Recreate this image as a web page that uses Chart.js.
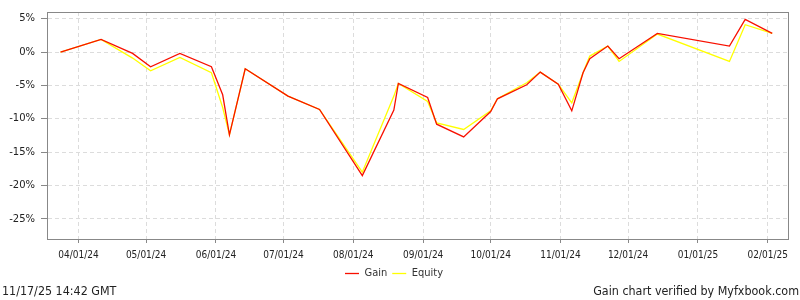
<!DOCTYPE html>
<html>
<head>
<meta charset="utf-8">
<script src="https://cdn.jsdelivr.net/npm/chart.js@4.4.1/dist/chart.umd.min.js"></script>
<style>
  html, body { margin: 0; padding: 0; background: #fff; }
  #wrap { position: relative; width: 800px; height: 300px; }
  .foot { position: absolute; top: 283px; font: 12.4px "DejaVu Sans Condensed", "DejaVu Sans", sans-serif; color: #222; white-space: nowrap; }
</style>
</head>
<body>
<div id="wrap">
  <canvas id="chart" width="800" height="300"></canvas>
  <div class="foot" style="left:2px;">11/17/25 14:42 GMT</div>
  <div class="foot" style="right:1px;">Gain chart verified by Myfxbook.com</div>
</div>
<script>
// 資料點 (日期 / 收益 % / 淨值 %)
const dates = [
    '2024-03-24', '2024-04-11', '2024-04-25', '2024-05-03', '2024-05-16', '2024-05-30',
    '2024-06-04', '2024-06-07', '2024-06-14', '2024-07-03', '2024-07-17', '2024-08-05',
    '2024-08-19', '2024-08-21', '2024-09-03', '2024-09-07', '2024-09-19', '2024-10-01',
    '2024-10-04', '2024-10-17', '2024-10-23', '2024-10-31', '2024-11-06', '2024-11-11',
    '2024-11-14', '2024-11-22', '2024-11-27', '2024-12-14', '2025-01-15', '2025-01-22',
    '2025-02-03'
];
const gain = [
    0, 1.9, -0.2, -2.2, -0.2, -2.2,
    -6.4, -12.4, -2.5, -6.6, -8.6, -18.5,
    -8.7, -4.7, -6.8, -10.8, -12.7, -8.9,
    -7.0, -4.9, -3.0, -4.8, -8.8, -3.1,
    -1.0, 0.9, -1.0, 2.8, 0.9, 4.9,
    2.8
];
const equity = [
    0, 1.9, -0.9, -2.8, -0.8, -3.1,
    -8.3, -12.4, -2.5, -6.6, -8.6, -18.0,
    -6.6, -4.7, -7.4, -10.6, -11.6, -8.8,
    -7.0, -4.6, -3.0, -4.8, -7.6, -3.1,
    -0.6, 0.9, -1.4, 2.7, -1.4, 4.1,
    2.8
];

// 座標軸刻度
const xTicks = ['2024-04-01', '2024-05-01', '2024-06-01', '2024-07-01', '2024-08-01', '2024-09-01',
                '2024-10-01', '2024-11-01', '2024-12-01', '2025-01-01', '2025-02-01'];
const xMin = '2024-03-18', xMax = '2025-02-10';
const yTicks = [-25, -20, -15, -10, -5, 0, 5];
const yMin = -28, yMax = 6;

const DAY = 86400000;
function dayNum(s) {
    const [y, m, d] = s.split('-').map(Number);
    return Date.UTC(y, m - 1, d) / DAY;
}
function fmtDay(n) {
    const d = new Date(n * DAY);
    const p = v => String(v).padStart(2, '0');
    return `${p(d.getUTCMonth() + 1)}/${p(d.getUTCDate())}/${p(d.getUTCFullYear() % 100)}`;
}

// 圖表外框 (上、右兩邊)
const frame = {
    id: 'frame',
    afterDraw(chart) {
        const {ctx, chartArea: a} = chart;
        ctx.save();
        ctx.strokeStyle = '#888';
        ctx.lineWidth = 1;
        ctx.strokeRect(Math.round(a.left) + 0.5, Math.round(a.top) + 0.5,
                       Math.round(a.right - a.left), Math.round(a.bottom - a.top));
        ctx.restore();
    }
};

const gridOpts = { color: '#dcdcdc', tickColor: '#888', tickBorderDash: [] };
const condensed = '"DejaVu Sans Condensed", "DejaVu Sans"';

new Chart(document.getElementById('chart'), {
    type: 'line',
    data: {
        datasets: [
            { label: 'Gain', data: dates.map((d, i) => ({ x: dayNum(d), y: gain[i] })),
              borderColor: '#f81000', backgroundColor: '#f81000', borderWidth: 1.3 },
            { label: 'Equity', data: dates.map((d, i) => ({ x: dayNum(d), y: equity[i] })),
              borderColor: '#ffff00', backgroundColor: '#ffff00', borderWidth: 1.3 }
        ]
    },
    options: {
        responsive: false,
        animation: false,
        events: [],
        elements: { point: { radius: 0 }, line: { tension: 0 } },
        layout: { padding: { top: 10, right: 12, bottom: 11, left: 0 } },
        plugins: {
            tooltip: { enabled: false },
            legend: {
                position: 'bottom',
                labels: {
                    usePointStyle: true, pointStyle: 'line', pointStyleWidth: 14, boxHeight: 11, padding: 5,
                    color: '#333', font: { family: condensed, size: 11 }
                }
            }
        },
        scales: {
            x: {
                type: 'linear',
                min: dayNum(xMin), max: dayNum(xMax),
                afterBuildTicks: s => { s.ticks = xTicks.map(d => ({ value: dayNum(d) })); },
                afterFit: s => { s.height = 24; },
                grid: { ...gridOpts, tickLength: 4 },
                border: { color: '#888', dash: [4, 3] },
                ticks: {
                    autoSkip: false, maxRotation: 0, padding: 6, color: '#222',
                    font: { family: condensed, size: 10 },
                    callback: v => fmtDay(v)
                }
            },
            y: {
                min: yMin, max: yMax,
                afterBuildTicks: s => { s.ticks = yTicks.map(v => ({ value: v })); },
                afterFit: s => { s.width = 47; },
                grid: { ...gridOpts, tickLength: 6 },
                border: { color: '#888', dash: [4, 3] },
                ticks: {
                    padding: 6, color: '#222',
                    font: { family: '"DejaVu Sans"', size: 10 },
                    callback: v => v + '%'
                }
            }
        }
    },
    plugins: [frame]
});
</script>
</body>
</html>
